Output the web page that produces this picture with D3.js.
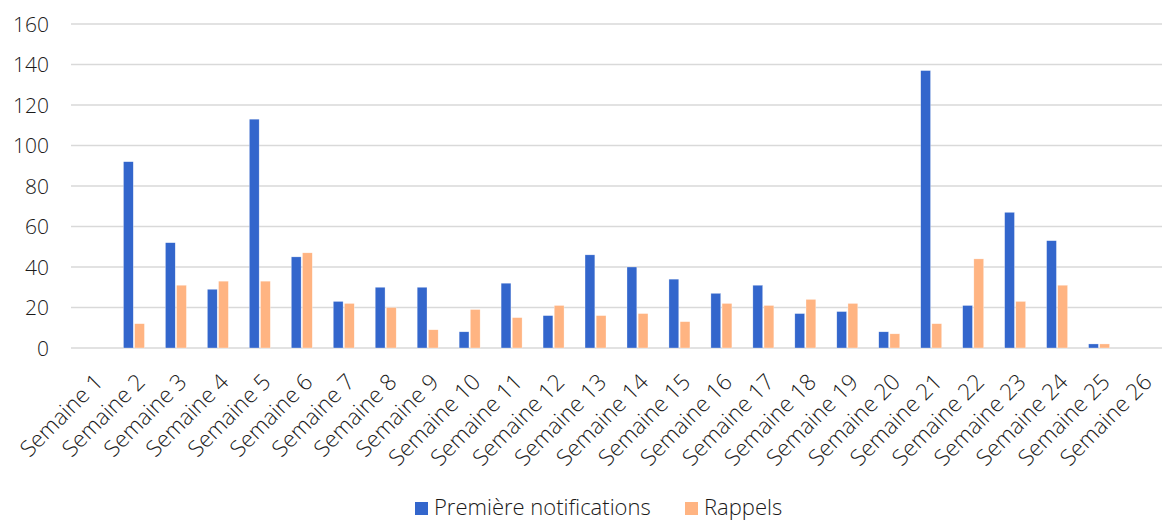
<!DOCTYPE html>
<html>
<head>
<meta charset="utf-8">
<script src="https://cdnjs.cloudflare.com/ajax/libs/d3/7.8.5/d3.min.js"></script>
<style>
  body { margin: 0; background: #fff; }
  svg text { font-family: "Open Sans", "Noto Sans", sans-serif; font-weight: 300; fill: #1a1a1a; }
</style>
</head>
<body>
<div id="chart"></div>
<script>
// data
var weeks = d3.range(1, 27).map(function(i) { return "Semaine " + i; });
var premieres = [0, 92, 52, 29, 113, 45, 23, 30, 30, 8, 32, 16, 46, 40, 34, 27, 31, 17, 18, 8, 137, 21, 67, 53, 2, 0];
var rappels   = [0, 12, 31, 33, 33, 47, 22, 20, 9, 19, 15, 21, 16, 17, 13, 22, 21, 24, 22, 7, 12, 44, 23, 31, 2, 0];
var seriesNames = ["Première notifications", "Rappels"];
var colors = ["#3366CC", "#FFB482"];
var yTicks = [0, 20, 40, 60, 80, 100, 120, 140, 160];

var width = 1166, height = 520;
var margin = {top: 24, right: 4, bottom: 172, left: 71};

var svg = d3.select("#chart").append("svg")
    .attr("width", width)
    .attr("height", height);

var x = d3.scaleBand()
    .domain(weeks)
    .range([margin.left, width - margin.right])
    .paddingInner(0.5)
    .paddingOuter(0.25);

var x1 = d3.scaleBand()
    .domain(seriesNames)
    .range([0, x.bandwidth()])
    .paddingInner(0.12);

var y = d3.scaleLinear()
    .domain([0, 160])
    .range([height - margin.bottom, margin.top]);

//gridlines
svg.append("g")
    .selectAll("line")
    .data(yTicks)
    .enter().append("line")
    .attr("x1", margin.left)
    .attr("x2", width - margin.right)
    .attr("y1", function(d) { return y(d); })
    .attr("y2", function(d) { return y(d); })
    .attr("stroke", "#d9d9d9")
    .attr("stroke-width", 1.5);

//y axis labels
var yAxis = svg.append("g")
    .attr("transform", "translate(" + (margin.left - 22) + ",0)")
    .call(d3.axisLeft(y).tickValues(yTicks).tickSize(0).tickPadding(0));
yAxis.select(".domain").remove();
yAxis.selectAll("text")
    .attr("font-size", 21)
    .attr("font-family", null)
    .attr("fill", "#1a1a1a")
    .attr("dy", "0.35em");

//bars
var data = [premieres, rappels];
data.forEach(function(vals, s) {
  svg.append("g")
    .selectAll("rect")
    .data(vals)
    .enter().append("rect")
    .attr("x", function(d, i) { return x(weeks[i]) + x1(seriesNames[s]); })
    .attr("y", function(d) { return y(d); })
    .attr("width", x1.bandwidth())
    .attr("height", function(d) { return y(0) - y(d); })
    .attr("fill", colors[s])
    .attr("stroke", "#fff")
    .attr("stroke-width", 0.5)
    .attr("stroke-opacity", 0.6);
});

//x axis labels
var xAxis = svg.append("g")
    .attr("transform", "translate(0," + y(0) + ")")
    .call(d3.axisBottom(x).tickSize(0).tickPadding(0));
xAxis.select(".domain").remove();
xAxis.selectAll("text")
    .attr("font-size", 22.5)
    .attr("font-family", null)
    .attr("fill", "#1a1a1a")
    .attr("text-anchor", "end")
    .attr("transform", "translate(1,24) rotate(-45)")
    .attr("dy", "0.71em")
    .attr("y", 0)
    .attr("x", 0);

//legend
var legendX = [415, 685];
seriesNames.forEach(function(name, i) {
  svg.append("rect")
    .attr("x", legendX[i])
    .attr("y", 502)
    .attr("width", 13)
    .attr("height", 13)
    .attr("fill", colors[i]);
  svg.append("text")
    .attr("x", legendX[i] + 19)
    .attr("y", 515)
    .attr("font-size", 22)
    .text(name);
});
</script>
</body>
</html>
